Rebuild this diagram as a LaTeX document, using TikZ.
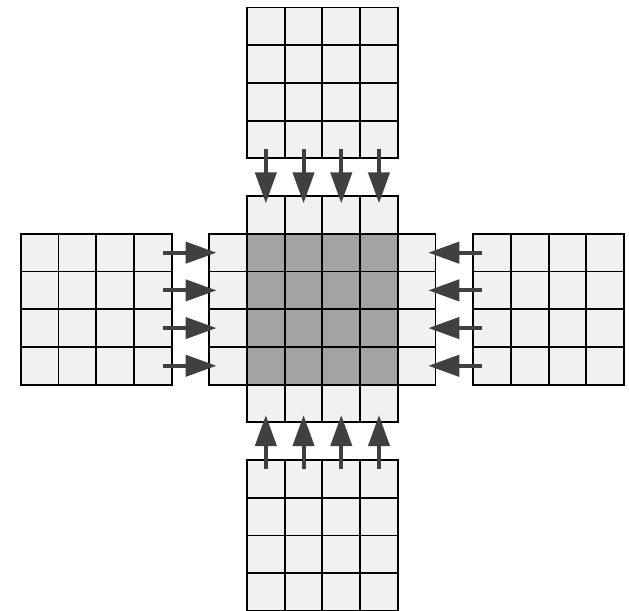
\documentclass[tikz,border=0pt]{standalone}
\usetikzlibrary{arrows.meta}
\definecolor{CellLight}{HTML}{F1F1F1}
\definecolor{CellDark}{HTML}{A3A3A3}
\definecolor{ArrowGray}{HTML}{404040}

\begin{document}
\begin{tikzpicture}[
    cell/.style={rectangle, draw=black, fill=CellLight, line width=1.4pt,
                 minimum size=1cm, inner sep=0pt},
    core/.style={cell, fill=CellDark},
    conn/.style={-{Triangle[length=0.82cm, width=0.56cm]}, line width=3pt, ArrowGray,
                 shorten <=0.26cm, shorten >=0.31cm}
]
  \useasboundingbox (-8.55,-7.98) rectangle (8.13,8.20);
  % Core block
  \foreach \i in {1,...,4}{
    \foreach \j in {1,...,4}{
      \node[core] (c\i\j) at (\j-2.5, 2.5-\i) {};
    }
  }
  % Halo strips
  \foreach \k in {1,...,4}{
    \node[cell] (hn\k) at (\k-2.5, 2.5) {};
    \node[cell] (hs\k) at (\k-2.5, -2.5) {};
    \node[cell] (hw\k) at (-2.5, 2.5-\k) {};
    \node[cell] (he\k) at (2.5, 2.5-\k) {};
  }
  % Neighbour blocks
  \foreach \i in {1,...,4}{
    \foreach \j in {1,...,4}{
      \node[cell] (n\i\j) at (\j-2.5, 8.5-\i) {};
      \node[cell] (s\i\j) at (\j-2.5, -3.5-\i) {};
      \node[cell] (w\i\j) at (\j-8.5, 2.5-\i) {};
      \node[cell] (e\i\j) at (\j+3.5, 2.5-\i) {};
    }
  }
  % Exchange arrows
  \foreach \k in {1,...,4}{
    \draw[conn] (n4\k.center) -- (hn\k.center);
    \draw[conn] (s1\k.center) -- (hs\k.center);
    \draw[conn] (w\k4.center) -- (hw\k.center);
    \draw[conn] (e\k1.center) -- (he\k.center);
  }
\end{tikzpicture}
\end{document}
